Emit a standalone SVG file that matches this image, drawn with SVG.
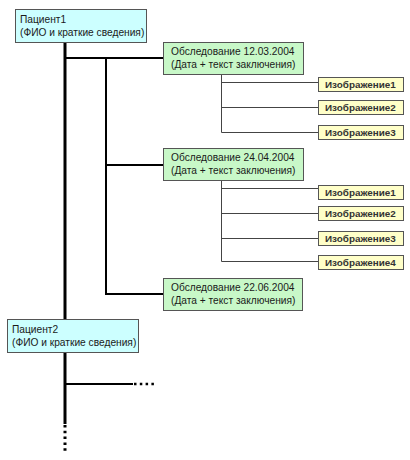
<svg xmlns="http://www.w3.org/2000/svg" width="410" height="460" viewBox="0 0 410 460">
<style>
text{font-family:"Liberation Sans",Arial,sans-serif;font-size:10.2px;fill:#1a1a1a}
.img text{font-size:9.9px;font-weight:bold;fill:#333}
.pat rect{fill:#ccffff;stroke:#555;stroke-width:1}
.exam rect{fill:#c8f8c8;stroke:#555;stroke-width:1}
.img rect{fill:#ffffc8;stroke:#555;stroke-width:1}
.thick{stroke:#000;stroke-width:3;fill:none}
.mid{stroke:#000;stroke-width:2;fill:none}
.thin{stroke:#444;stroke-width:1;fill:none}
.dots{stroke:#000;stroke-dasharray:2.5 3.3;fill:none}
</style>
<rect width="410" height="460" fill="#fff"/>
<g id="connectors">
<line class="thick" x1="65" y1="42" x2="65" y2="424"/>
<line class="dots" x1="65" y1="425" x2="65" y2="451" stroke-width="3"/>
<line class="mid" x1="65" y1="58" x2="163" y2="58"/>
<line class="mid" x1="106" y1="58" x2="106" y2="295"/>
<line class="mid" x1="106" y1="165" x2="163" y2="165"/>
<line class="mid" x1="105" y1="294" x2="163" y2="294"/>
<line class="mid" x1="65" y1="384" x2="133" y2="384"/>
<line class="dots" x1="134" y1="384" x2="156" y2="384" stroke-width="2.5"/>
<path class="thin" d="M221.5 74V132.5H318M221.5 82.5H318M221.5 107.5H318"/>
<path class="thin" d="M221.5 181V261.5H318M221.5 188.5H318M221.5 213.5H318M221.5 238.5H318"/>
</g>
<g id="patient1" class="pat"><rect x="15.5" y="9.5" width="131" height="33"/><text x="20" y="23">Пациент1</text><text x="20" y="36">(ФИО и краткие сведения)</text></g>
<g id="patient2" class="pat"><rect x="7.5" y="319.5" width="131" height="33"/><text x="12" y="333">Пациент2</text><text x="12" y="346">(ФИО и краткие сведения)</text></g>
<g id="exam1" class="exam"><rect x="163.5" y="42.5" width="140" height="32"/><text x="171" y="55">Обследование 12.03.2004</text><text x="171" y="68">(Дата + текст заключения)</text></g>
<g id="exam2" class="exam"><rect x="163.5" y="148.5" width="140" height="32"/><text x="171" y="161">Обследование 24.04.2004</text><text x="171" y="174">(Дата + текст заключения)</text></g>
<g id="exam3" class="exam"><rect x="163.5" y="278.5" width="139" height="32"/><text x="171" y="291">Обследование 22.06.2004</text><text x="171" y="304">(Дата + текст заключения)</text></g>
<g id="img1_1" class="img"><rect x="318.5" y="77.5" width="85" height="14"/><text x="325" y="88">Изображение1</text></g>
<g id="img1_2" class="img"><rect x="318.5" y="100.5" width="85" height="14"/><text x="325" y="111">Изображение2</text></g>
<g id="img1_3" class="img"><rect x="318.5" y="125.5" width="85" height="14"/><text x="325" y="136">Изображение3</text></g>
<g id="img2_1" class="img"><rect x="318.5" y="185.5" width="85" height="14"/><text x="325" y="196">Изображение1</text></g>
<g id="img2_2" class="img"><rect x="318.5" y="206.5" width="85" height="14"/><text x="325" y="217">Изображение2</text></g>
<g id="img2_3" class="img"><rect x="318.5" y="231.5" width="85" height="14"/><text x="325" y="242">Изображение3</text></g>
<g id="img2_4" class="img"><rect x="318.5" y="255.5" width="85" height="14"/><text x="325" y="266">Изображение4</text></g>
</svg>
